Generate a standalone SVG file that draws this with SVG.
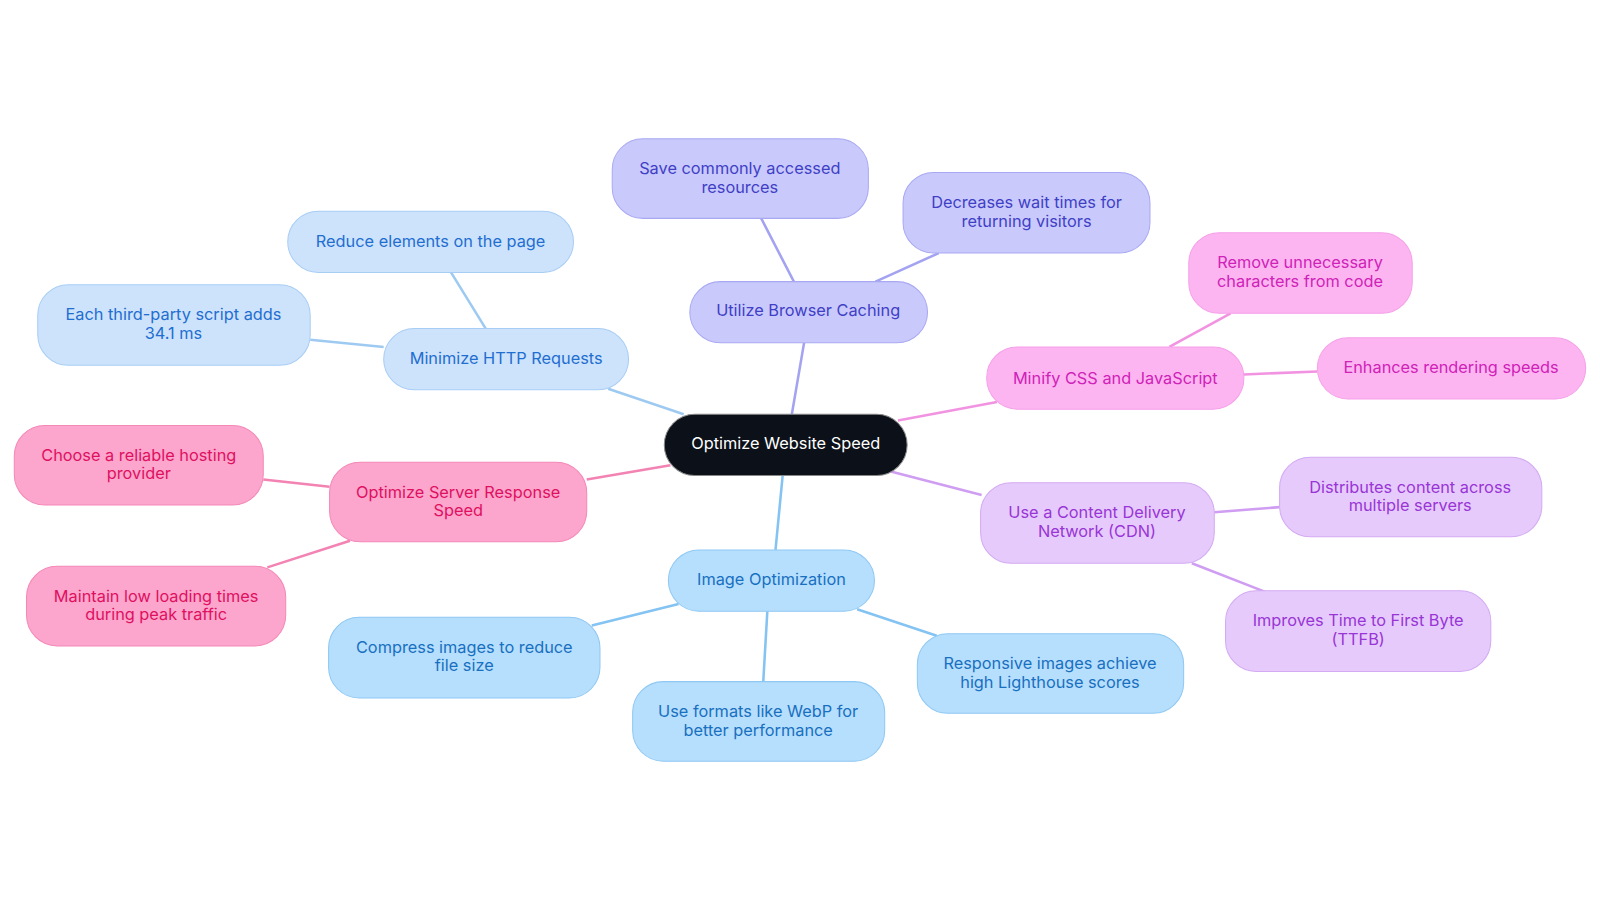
<svg xmlns="http://www.w3.org/2000/svg" width="1600" height="903" viewBox="0 0 1600 903">
<style>
text{font-family:Inter,"Liberation Sans",sans-serif;font-size:16px;text-anchor:middle;dominant-baseline:central}
.e{fill:none;stroke-width:2.5}
.b rect{fill:#cde3fb;stroke:#a8cdf5}.b text{fill:#1f6ed0}
.i rect{fill:#c9c9fb;stroke:#a9a9f3}.i text{fill:#3f3fc6}
.p rect{fill:#fdb5f1;stroke:#f5a0e8}.p text{fill:#cf22b8}
.v rect{fill:#e6cafb;stroke:#d4aaf3}.v text{fill:#9935d6}
.s rect{fill:#b6defd;stroke:#8ec8f3}.s text{fill:#1870c0}
.r rect{fill:#fca5cd;stroke:#f488b7}.r text{fill:#df1060}
</style>
<rect width="1600" height="903" fill="#fff"/>
<g transform="scale(1.0204)">
<g id="connectors">
<path class="e" stroke="#9ecaf2" d="M670 406L596 381M476 322L442 267M376 340L304 333"/>
<path class="e" stroke="#a3a3f2" d="M776 406L788 336M778 276L746 214M858 276L920 248"/>
<path class="e" stroke="#f293e2" d="M880 412L977 394M1146 340L1206 307M1219 367L1291 364"/>
<path class="e" stroke="#cf9df2" d="M873 462L962 485M1190 502L1254 497M1168 552L1240 580"/>
<path class="e" stroke="#84c3f2" d="M767 466L760 539M665 592L580 613M752 599L748 668M840 597L918 623"/>
<path class="e" stroke="#f283b3" d="M657 456L575 470M323 477L258 470M343 530L262 556"/>
</g>
<g id="center"><rect x="651" y="406" width="238" height="60" rx="30" fill="#0c1119" stroke="#888" stroke-width="1"/><text x="770" y="434" fill="#fff">Optimize Website Speed</text></g>
<g id="n-http" class="b"><rect x="376" y="322" width="240" height="60" rx="30"/><text x="496" y="351">Minimize HTTP Requests</text></g>
<g id="n-reduce" class="b"><rect x="282" y="207" width="280" height="60" rx="30"/><text x="422" y="236">Reduce elements on the page</text></g>
<g id="n-third" class="b"><rect x="37" y="279" width="267" height="79" rx="30"/><text x="170" y="308">Each third-party script adds</text><text x="170" y="326">34.1 ms</text></g>
<g id="n-cache" class="i"><rect x="676" y="276" width="233" height="60" rx="30"/><text x="792" y="304">Utilize Browser Caching</text></g>
<g id="n-save" class="i"><rect x="600" y="136" width="251" height="78" rx="30"/><text x="725" y="165">Save commonly accessed</text><text x="725" y="183">resources</text></g>
<g id="n-decr" class="i"><rect x="885" y="169" width="242" height="79" rx="30"/><text x="1006" y="198">Decreases wait times for</text><text x="1006" y="217">returning visitors</text></g>
<g id="n-minify" class="p"><rect x="967" y="340" width="252" height="61" rx="30"/><text x="1093" y="370">Minify CSS and JavaScript</text></g>
<g id="n-remove" class="p"><rect x="1165" y="228" width="219" height="79" rx="30"/><text x="1274" y="257">Remove unnecessary</text><text x="1274" y="275">characters from code</text></g>
<g id="n-enh" class="p"><rect x="1291" y="331" width="263" height="60" rx="30"/><text x="1422" y="360">Enhances rendering speeds</text></g>
<g id="n-cdn" class="v"><rect x="961" y="473" width="229" height="79" rx="30"/><text x="1075" y="502">Use a Content Delivery</text><text x="1075" y="520">Network (CDN)</text></g>
<g id="n-dist" class="v"><rect x="1254" y="448" width="257" height="78" rx="30"/><text x="1382" y="477">Distributes content across</text><text x="1382" y="495">multiple servers</text></g>
<g id="n-ttfb" class="v"><rect x="1201" y="579" width="260" height="79" rx="30"/><text x="1331" y="608">Improves Time to First Byte</text><text x="1331" y="626">(TTFB)</text></g>
<g id="n-img" class="s"><rect x="655" y="539" width="202" height="60" rx="30"/><text x="756" y="567">Image Optimization</text></g>
<g id="n-comp" class="s"><rect x="322" y="605" width="266" height="79" rx="30"/><text x="455" y="634">Compress images to reduce</text><text x="455" y="652">file size</text></g>
<g id="n-webp" class="s"><rect x="620" y="668" width="247" height="78" rx="30"/><text x="743" y="697">Use formats like WebP for</text><text x="743" y="715">better performance</text></g>
<g id="n-resp" class="s"><rect x="899" y="621" width="261" height="78" rx="30"/><text x="1029" y="650">Responsive images achieve</text><text x="1029" y="668">high Lighthouse scores</text></g>
<g id="n-server" class="r"><rect x="323" y="453" width="252" height="78" rx="30"/><text x="449" y="482">Optimize Server Response</text><text x="449" y="500">Speed</text></g>
<g id="n-host" class="r"><rect x="14" y="417" width="244" height="78" rx="30"/><text x="136" y="446">Choose a reliable hosting</text><text x="136" y="464">provider</text></g>
<g id="n-peak" class="r"><rect x="26" y="555" width="254" height="78" rx="30"/><text x="153" y="584">Maintain low loading times</text><text x="153" y="602">during peak traffic</text></g>
</g>
</svg>
